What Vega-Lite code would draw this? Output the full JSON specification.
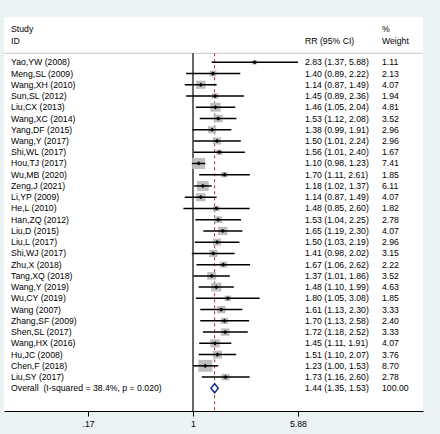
{
  "$schema": "https://vega.github.io/schema/vega-lite/v6.json",
  "width": 419,
  "height": 394,
  "autosize": {"type": "none"},
  "padding": {"left": 4, "top": 17, "right": 17, "bottom": 23},
  "background": "#eaf2f3",
  "config": {
    "view": {"fill": "white", "stroke": null},
    "font": "Liberation Sans",
    "text": {"font": "Liberation Sans", "fontSize": 8.7, "color": "#000000"}
  },
  "datasets": {
    "studies": [
      {"row": 1, "study": "Yao,YW (2008)", "rr": 2.83, "lo": 1.37, "hi": 5.88, "ci": "2.83 (1.37, 5.88)", "weight": 1.11, "type": "study"},
      {"row": 2, "study": "Meng,SL (2009)", "rr": 1.40, "lo": 0.89, "hi": 2.22, "ci": "1.40 (0.89, 2.22)", "weight": 2.13, "type": "study"},
      {"row": 3, "study": "Wang,XH (2010)", "rr": 1.14, "lo": 0.87, "hi": 1.49, "ci": "1.14 (0.87, 1.49)", "weight": 4.07, "type": "study"},
      {"row": 4, "study": "Sun,SL (2012)", "rr": 1.45, "lo": 0.89, "hi": 2.36, "ci": "1.45 (0.89, 2.36)", "weight": 1.94, "type": "study"},
      {"row": 5, "study": "Liu,CX (2013)", "rr": 1.46, "lo": 1.05, "hi": 2.04, "ci": "1.46 (1.05, 2.04)", "weight": 4.81, "type": "study"},
      {"row": 6, "study": "Wang,XC (2014)", "rr": 1.53, "lo": 1.12, "hi": 2.08, "ci": "1.53 (1.12, 2.08)", "weight": 3.52, "type": "study"},
      {"row": 7, "study": "Yang,DF (2015)", "rr": 1.38, "lo": 0.99, "hi": 1.91, "ci": "1.38 (0.99, 1.91)", "weight": 2.96, "type": "study"},
      {"row": 8, "study": "Wang,Y (2017)", "rr": 1.50, "lo": 1.01, "hi": 2.24, "ci": "1.50 (1.01, 2.24)", "weight": 2.96, "type": "study"},
      {"row": 9, "study": "Shi,WL (2017)", "rr": 1.56, "lo": 1.01, "hi": 2.40, "ci": "1.56 (1.01, 2.40)", "weight": 1.67, "type": "study"},
      {"row": 10, "study": "Hou,TJ (2017)", "rr": 1.10, "lo": 0.98, "hi": 1.23, "ci": "1.10 (0.98, 1.23)", "weight": 7.41, "type": "study"},
      {"row": 11, "study": "Wu,MB (2020)", "rr": 1.70, "lo": 1.11, "hi": 2.61, "ci": "1.70 (1.11, 2.61)", "weight": 1.85, "type": "study"},
      {"row": 12, "study": "Zeng,J (2021)", "rr": 1.18, "lo": 1.02, "hi": 1.37, "ci": "1.18 (1.02, 1.37)", "weight": 6.11, "type": "study"},
      {"row": 13, "study": "Li,YP (2009)", "rr": 1.14, "lo": 0.87, "hi": 1.49, "ci": "1.14 (0.87, 1.49)", "weight": 4.07, "type": "study"},
      {"row": 14, "study": "He,L (2010)", "rr": 1.48, "lo": 0.85, "hi": 2.60, "ci": "1.48 (0.85, 2.60)", "weight": 1.82, "type": "study"},
      {"row": 15, "study": "Han,ZQ (2012)", "rr": 1.53, "lo": 1.04, "hi": 2.25, "ci": "1.53 (1.04, 2.25)", "weight": 2.78, "type": "study"},
      {"row": 16, "study": "Liu,D (2015)", "rr": 1.65, "lo": 1.19, "hi": 2.30, "ci": "1.65 (1.19, 2.30)", "weight": 4.07, "type": "study"},
      {"row": 17, "study": "Liu,L (2017)", "rr": 1.50, "lo": 1.03, "hi": 2.19, "ci": "1.50 (1.03, 2.19)", "weight": 2.96, "type": "study"},
      {"row": 18, "study": "Shi,WJ (2017)", "rr": 1.41, "lo": 0.98, "hi": 2.02, "ci": "1.41 (0.98, 2.02)", "weight": 3.15, "type": "study"},
      {"row": 19, "study": "Zhu,X (2018)", "rr": 1.67, "lo": 1.06, "hi": 2.62, "ci": "1.67 (1.06, 2.62)", "weight": 2.22, "type": "study"},
      {"row": 20, "study": "Tang,XQ (2018)", "rr": 1.37, "lo": 1.01, "hi": 1.86, "ci": "1.37 (1.01, 1.86)", "weight": 3.52, "type": "study"},
      {"row": 21, "study": "Wang,Y (2019)", "rr": 1.48, "lo": 1.10, "hi": 1.99, "ci": "1.48 (1.10, 1.99)", "weight": 4.63, "type": "study"},
      {"row": 22, "study": "Wu,CY (2019)", "rr": 1.80, "lo": 1.05, "hi": 3.08, "ci": "1.80 (1.05, 3.08)", "weight": 1.85, "type": "study"},
      {"row": 23, "study": "Wang (2007)", "rr": 1.61, "lo": 1.13, "hi": 2.30, "ci": "1.61 (1.13, 2.30)", "weight": 3.33, "type": "study"},
      {"row": 24, "study": "Zhang,SF (2009)", "rr": 1.70, "lo": 1.13, "hi": 2.58, "ci": "1.70 (1.13, 2.58)", "weight": 2.40, "type": "study"},
      {"row": 25, "study": "Shen,SL (2017)", "rr": 1.72, "lo": 1.18, "hi": 2.52, "ci": "1.72 (1.18, 2.52)", "weight": 3.33, "type": "study"},
      {"row": 26, "study": "Wang,HX (2016)", "rr": 1.45, "lo": 1.11, "hi": 1.91, "ci": "1.45 (1.11, 1.91)", "weight": 4.07, "type": "study"},
      {"row": 27, "study": "Hu,JC (2008)", "rr": 1.51, "lo": 1.10, "hi": 2.07, "ci": "1.51 (1.10, 2.07)", "weight": 3.76, "type": "study"},
      {"row": 28, "study": "Chen,F (2018)", "rr": 1.23, "lo": 1.00, "hi": 1.53, "ci": "1.23 (1.00, 1.53)", "weight": 8.70, "type": "study"},
      {"row": 29, "study": "Liu,SY (2017)", "rr": 1.73, "lo": 1.16, "hi": 2.60, "ci": "1.73 (1.16, 2.60)", "weight": 2.78, "type": "study"},
      {"row": 30, "study": "Overall \u00a0(I-squared = 38.4%, p = 0.020)", "rr": 1.44, "lo": 1.35, "hi": 1.53, "ci": "1.44 (1.35, 1.53)", "weight": 100.00, "type": "overall"}
    ],
    "single": [{"ref": 1}]
  },
  "data": {"name": "studies"},
  "layer": [
    {
      "data": {"name": "single"},
      "mark": {"type": "rule", "color": "#c8c8c8", "strokeWidth": 1},
      "encoding": {
        "y": {"datum": 0.2, "type": "quantitative", "scale": {"domain": [-3.03, 32.02], "reverse": true, "nice": false, "zero": false}, "axis": null}
      }
    },
    {
      "data": {"name": "single"},
      "mark": {"type": "rule", "color": "#000000", "strokeWidth": 1.2},
      "encoding": {
        "x": {"field": "ref", "type": "quantitative", "title": null, "scale": {"type": "log", "domain": [0.0412, 48.47], "nice": false}},
        "y": {"datum": 0.2, "type": "quantitative"},
        "y2": {"datum": 32.02}
      }
    },
    {
      "transform": [{"filter": "datum.type == 'overall'"}],
      "mark": {"type": "rule", "color": "#a8322e", "strokeWidth": 1, "strokeDash": [3, 3]},
      "encoding": {
        "x": {"field": "rr", "type": "quantitative", "title": null},
        "y": {"datum": 0.2, "type": "quantitative"},
        "y2": {"datum": 32.02}
      }
    },
    {
      "transform": [{"filter": "datum.type == 'study'"}],
      "mark": {"type": "point", "shape": "M-1,-0.85L1,-0.85L1,0.85L-1,0.85Z", "filled": true, "color": "#bebebe", "opacity": 1, "strokeWidth": 0},
      "encoding": {
        "x": {"field": "rr", "type": "quantitative", "title": null},
        "y": {"field": "row", "type": "quantitative"},
        "size": {"field": "weight", "type": "quantitative", "scale": {"domain": [0, 8.7], "range": [0, 196], "zero": true}, "legend": null}
      }
    },
    {
      "transform": [{"filter": "datum.type == 'study'"}],
      "mark": {"type": "rule", "color": "#000000", "strokeWidth": 1.5},
      "encoding": {
        "x": {
          "field": "lo", "type": "quantitative", "title": null,
          "scale": {"type": "log", "domain": [0.0412, 48.47], "nice": false},
          "axis": {
            "values": [0.17, 1, 5.88], "format": "~g", "labelExpr": "replace(datum.label, '0.', '.')",
            "title": null, "grid": false, "domainColor": "#000000", "domainWidth": 1,
            "tickColor": "#000000", "tickSize": 5, "tickWidth": 1, "labelColor": "#000000",
            "labelFontSize": 8.7, "labelFont": "Liberation Sans", "labelPadding": 3,
            "labelFlush": false, "labelOverlap": false
          }
        },
        "x2": {"field": "hi"},
        "y": {"field": "row", "type": "quantitative"}
      }
    },
    {
      "transform": [{"filter": "datum.type == 'study'"}],
      "mark": {"type": "point", "shape": "diamond", "filled": true, "color": "#000000", "opacity": 1, "size": 18},
      "encoding": {
        "x": {"field": "rr", "type": "quantitative", "title": null},
        "y": {"field": "row", "type": "quantitative"}
      }
    },
    {
      "transform": [{"filter": "datum.type == 'overall'"}],
      "mark": {"type": "point", "shape": "M0,-1L0.82,0L0,1L-0.82,0Z", "filled": false, "fill": "white", "fillOpacity": 1, "stroke": "#1c2a8c", "strokeWidth": 1.5, "opacity": 1, "size": 81},
      "encoding": {
        "x": {"field": "rr", "type": "quantitative", "title": null},
        "y": {"field": "row", "type": "quantitative"}
      }
    },
    {
      "mark": {"type": "text", "align": "left", "baseline": "middle"},
      "encoding": {
        "x": {"datum": 0.0464, "type": "quantitative"},
        "y": {"field": "row", "type": "quantitative"},
        "text": {"field": "study"}
      }
    },
    {
      "mark": {"type": "text", "align": "left", "baseline": "middle"},
      "encoding": {
        "x": {"datum": 6.62, "type": "quantitative"},
        "y": {"field": "row", "type": "quantitative"},
        "text": {"field": "ci"}
      }
    },
    {
      "mark": {"type": "text", "align": "left", "baseline": "middle"},
      "encoding": {
        "x": {"datum": 24.26, "type": "quantitative"},
        "y": {"field": "row", "type": "quantitative"},
        "text": {"field": "weight", "type": "quantitative", "format": ".2f"}
      }
    },
    {
      "data": {"name": "single"},
      "mark": {"type": "text", "align": "left", "baseline": "middle", "text": "Study"},
      "encoding": {
        "x": {"datum": 0.0464, "type": "quantitative"},
        "y": {"datum": -1.936, "type": "quantitative"}
      }
    },
    {
      "data": {"name": "single"},
      "mark": {"type": "text", "align": "left", "baseline": "middle", "text": "ID"},
      "encoding": {
        "x": {"datum": 0.0464, "type": "quantitative"},
        "y": {"datum": -0.921, "type": "quantitative"}
      }
    },
    {
      "data": {"name": "single"},
      "mark": {"type": "text", "align": "left", "baseline": "middle", "text": "RR (95% CI)"},
      "encoding": {
        "x": {"datum": 6.62, "type": "quantitative"},
        "y": {"datum": -0.921, "type": "quantitative"}
      }
    },
    {
      "data": {"name": "single"},
      "mark": {"type": "text", "align": "left", "baseline": "middle", "text": "%"},
      "encoding": {
        "x": {"datum": 24.26, "type": "quantitative"},
        "y": {"datum": -1.936, "type": "quantitative"}
      }
    },
    {
      "data": {"name": "single"},
      "mark": {"type": "text", "align": "left", "baseline": "middle", "text": "Weight"},
      "encoding": {
        "x": {"datum": 24.26, "type": "quantitative"},
        "y": {"datum": -0.921, "type": "quantitative"}
      }
    }
  ]
}
